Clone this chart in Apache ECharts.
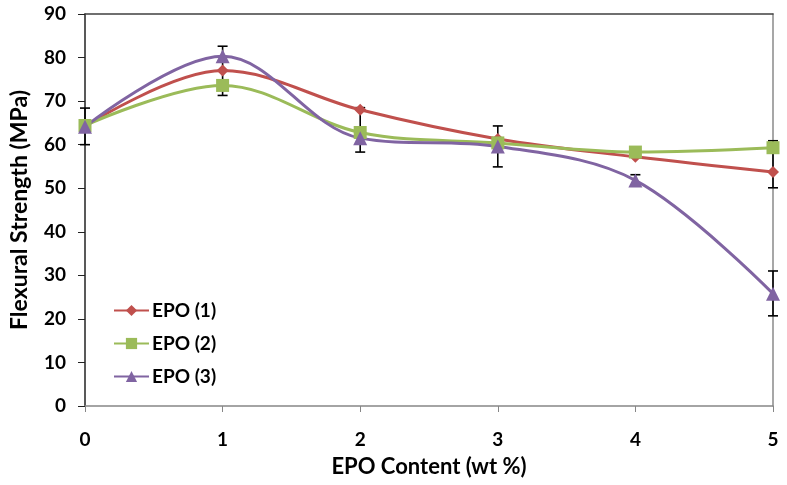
<!DOCTYPE html>
<html>
<head>
<meta charset="utf-8">
<script src="https://cdn.jsdelivr.net/npm/echarts@6/dist/echarts.min.js"></script>
<style>html,body{margin:0;padding:0;background:#fff;}#c{width:787px;height:485px;}</style>
</head>
<body>
<div id="c"></div>
<script>
const xValues = [0, 1, 2, 3, 4, 5];
const epo1 = [64.2, 77.0, 68.0, 61.3, 57.2, 53.7];
const epo2 = [64.4, 73.6, 62.8, 60.4, 58.3, 59.3];
const epo3 = [64.1, 80.3, 61.5, 59.6, 51.8, 25.8];
const seriesNames = ['EPO (1)', 'EPO (2)', 'EPO (3)'];
const errX = [0, 1, 2, 3, 4, 5, 5];
const errLow = [60.0, 71.3, 58.3, 54.9, 50.5, 50.1, 20.7];
const errHigh = [68.4, 82.6, 68.5, 64.3, 53.1, 60.9, 31.0];
const yTicks = [0, 10, 20, 30, 40, 50, 60, 70, 80, 90];

const FONT = 'Lato';
const chart = echarts.init(document.getElementById('c'));
const pairs = a => a.map((v, i) => [xValues[i], v]);
const errData = errX.map((x, i) => [x, errLow[i], errHigh[i]]);

chart.setOption({
  animation: false,
  backgroundColor: '#fff',
  grid: { left: 84, right: 14, top: 14, bottom: 79, containLabel: false },
  legend: {
    orient: 'vertical', left: 108, top: 296,
    itemWidth: 35, itemHeight: 14, itemGap: 14,
    textStyle: { fontFamily: FONT, fontWeight: 'bold', fontSize: 19, color: '#000', padding: [0, 0, 0, -2] },
    data: seriesNames
  },
  xAxis: [{
    type: 'value', min: 0, max: 5, interval: 1,
    name: 'EPO Content (wt %)', nameLocation: 'middle', nameGap: 50,
    nameTextStyle: { fontFamily: FONT, fontWeight: 'bold', fontSize: 22, color: '#000' },
    axisLine: { show: true, onZero: false, lineStyle: { color: '#868686', width: 1.5 } },
    axisTick: { show: true, length: 6, lineStyle: { color: '#868686' } },
    axisLabel: { margin: 24, fontFamily: FONT, fontWeight: 'bold', fontSize: 19, color: '#000' },
    splitLine: { show: false }
  }, {
    type: 'value', position: 'top', min: 0, max: 5,
    axisLine: { show: true, onZero: false, lineStyle: { color: '#404040', width: 1.5 } },
    axisTick: { show: false }, axisLabel: { show: false }, splitLine: { show: false }
  }],
  yAxis: [{
    type: 'value', min: 0, max: 90, interval: 10,
    name: 'Flexural Strength (MPa)', nameLocation: 'middle', nameGap: 54,
    nameTextStyle: { fontFamily: FONT, fontWeight: 'bold', fontSize: 23, color: '#000' },
    axisLine: { show: true, onZero: false, lineStyle: { color: '#222', width: 1.5 } },
    axisTick: { show: true, length: 7, lineStyle: { color: '#222' } },
    axisLabel: { margin: 19, fontFamily: FONT, fontWeight: 'bold', fontSize: 19, color: '#000',
      formatter: v => yTicks.includes(v) ? String(v) : '' },
    splitLine: { show: false }
  }, {
    type: 'value', position: 'right', min: 0, max: 90,
    axisLine: { show: true, onZero: false, lineStyle: { color: '#8a8a8a', width: 1.5 } },
    axisTick: { show: false }, axisLabel: { show: false }, splitLine: { show: false }
  }],
  series: [
    {
      type: 'custom', name: 'err', z: 1, silent: true,
      renderItem: (params, api) => {
        const x = api.value(0);
        const lo = api.coord([x, api.value(1)]);
        const hi = api.coord([x, api.value(2)]);
        const w = 5;
        const st = { stroke: '#000', lineWidth: 1.6 };
        return { type: 'group', children: [
          { type: 'line', shape: { x1: lo[0], y1: lo[1], x2: hi[0], y2: hi[1] }, style: st },
          { type: 'line', shape: { x1: lo[0] - w, y1: lo[1], x2: lo[0] + w, y2: lo[1] }, style: st },
          { type: 'line', shape: { x1: hi[0] - w, y1: hi[1], x2: hi[0] + w, y2: hi[1] }, style: st }
        ]};
      },
      data: errData
    },
    {
      name: seriesNames[0], type: 'line', smooth: 0.35, z: 3, data: pairs(epo1),
      symbol: 'diamond', symbolSize: 12,
      lineStyle: { color: '#C0504D', width: 3 }, itemStyle: { color: '#C0504D' }
    },
    {
      name: seriesNames[1], type: 'line', smooth: 0.35, z: 3, data: pairs(epo2),
      symbol: 'rect', symbolSize: 13,
      lineStyle: { color: '#9BBB59', width: 3 }, itemStyle: { color: '#9BBB59' }
    },
    {
      name: seriesNames[2], type: 'line', smooth: 0.35, z: 3, data: pairs(epo3),
      symbol: 'triangle', symbolSize: 14,
      lineStyle: { color: '#8064A2', width: 3 }, itemStyle: { color: '#8064A2' }
    }
  ]
});
</script>
</body>
</html>
